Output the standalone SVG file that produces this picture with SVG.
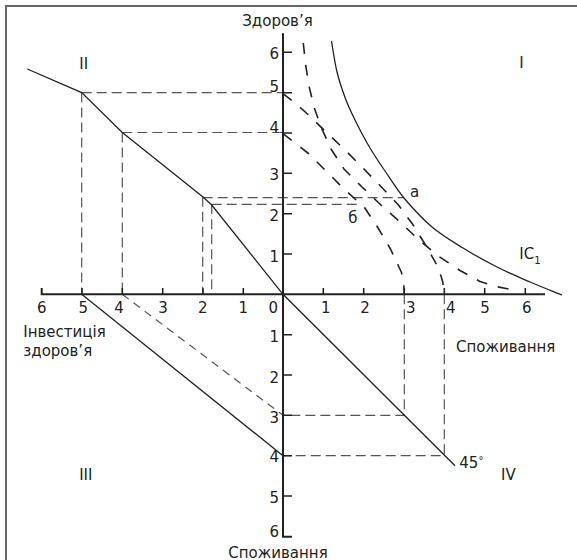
<svg xmlns="http://www.w3.org/2000/svg" width="577" height="560" viewBox="0 0 577 560">
<style>
text { font-family: "DejaVu Sans", "Liberation Sans", sans-serif; font-size: 15px; fill: #222; }
.c { text-anchor: middle; }
.e { text-anchor: end; }
.frame { fill: none; stroke: #666; stroke-width: 2; }
.axis { fill: none; stroke: #222; stroke-width: 2; }
.tick { fill: none; stroke: #222; stroke-width: 1.6; }
.solid { fill: none; stroke: #222; stroke-width: 1.3; }
.curve { fill: none; stroke: #222; stroke-width: 1.6; stroke-dasharray: 11 11; stroke-linejoin: round; }
.proj { fill: none; stroke: #555; stroke-width: 1.2; stroke-dasharray: 10 5; }
.proj2 { fill: none; stroke: #555; stroke-width: 1.2; stroke-dasharray: 8 6; }
</style>
<rect width="577" height="560" fill="#fff"/>
<path class="frame" d="M6,560 V6 H577"/>

<g id="projections">
  <path class="proj" d="M81.7,92.6 V294.3 M122.3,132.5 V294.3 M202.7,196.7 V294.3 M211.7,204.3 V294.3"/>
  <path class="proj" d="M81.7,92.6 H283 M122.3,132.5 H283 M202.7,197.7 H404 M211.7,204.3 H360"/>
  <path class="proj" d="M404.3,294.3 V415.3 H283 M444.3,294.3 V455.7 H283"/>
  <path class="proj2" d="M122.3,294.3 L283,415.3"/>
</g>

<g id="axes">
  <path class="axis" d="M41.7,288 V294.3 H545 M283,33.3 V536.7 H292"/>
  <path class="tick" d="M82,294.3 V288 M122.3,294.3 V288 M162.7,294.3 V288 M203,294.3 V288 M243.3,294.3 V288 M323.3,294.3 V288 M363.7,294.3 V288 M404.3,294.3 V288 M444.3,294.3 V288 M484.7,294.3 V288 M525.3,294.3 V288"/>
  <path class="tick" d="M283,52.3 H292 M283,92.7 H292 M283,133 H292 M283,173.3 H292 M283,213.7 H292 M283,254 H292 M283,334.7 H292 M283,375 H292 M283,415.3 H292 M283,455.7 H292 M283,496 H292"/>
</g>

<g id="solid-lines">
  <path class="solid" d="M27.3,69 L81.7,92.6 L122.3,132.5 L202.7,196.7 L211.7,205 L283,294.3 L455,465.7"/>
  <path class="solid" d="M81.7,294.3 L283,455.7"/>
  <path id="ic1" class="solid" d="M331.5,41 C332.4,46.2 334.6,62.2 337,72 C339.4,81.8 342.7,91.3 346,100 C349.3,108.7 353,116 357,124 C361,132 365.3,140.2 370,148 C374.7,155.8 379.3,162.7 385,171 C390.7,179.3 396.2,188.7 404,198 C411.8,207.3 422.2,218.7 432,227 C441.8,235.3 452.2,241.3 463,248 C473.8,254.7 485.8,261.3 497,267 C508.2,272.7 519.2,277.3 530,282 C540.8,286.7 556.7,292.8 562,295"/>
</g>

<g id="dashed-curves">
  <polyline class="curve" points="303.3,43 305.5,64 309,86 314,107 321,127 331,149 344,169 362,187 381,205 400,222 419,240 439,256.5 460,270.5 480,281.5 496,286.5 513,290"/>
  <polyline class="curve" points="283,93.6 295,103 307.5,114 325,131 344,149 362.5,167.5 380,185.5 398,204.5 412.5,224 426.5,246.5 438.5,268 442.8,282 444.3,294.3"/>
  <polyline class="curve" points="283,133.6 295,143 308.5,153.5 326,171 344,189 364.5,207.5 377.5,227 390.5,249 401.5,272.5 403.8,284 404.3,294.3"/>
</g>

<g id="axis-numbers">
  <text class="e" x="279" y="58.5">6</text>
  <text class="e" x="279" y="91.5">5</text>
  <text class="e" x="279" y="132.5">4</text>
  <text class="e" x="279" y="180">3</text>
  <text class="e" x="279" y="221">2</text>
  <text class="e" x="279" y="261.5">1</text>
  <text class="e" x="279" y="341.7">1</text>
  <text class="e" x="279" y="382.5">2</text>
  <text class="e" x="279" y="423">3</text>
  <text class="e" x="279" y="462">4</text>
  <text class="e" x="279" y="503">5</text>
  <text class="e" x="279" y="537">6</text>
  <text class="c" x="41.7" y="312.5">6</text>
  <text class="c" x="83.3" y="312.5">5</text>
  <text class="c" x="119" y="312.5">4</text>
  <text class="c" x="163" y="312.5">3</text>
  <text class="c" x="202.7" y="312.5">2</text>
  <text class="c" x="243.3" y="312.5">1</text>
  <text class="c" x="273.3" y="312.5">0</text>
  <text class="c" x="325.7" y="312.5">1</text>
  <text class="c" x="365" y="312.5">2</text>
  <text class="c" x="410.7" y="312.5">3</text>
  <text class="c" x="450.7" y="312.5">4</text>
  <text class="c" x="485" y="312.5">5</text>
  <text class="c" x="526.7" y="312.5">6</text>
</g>

<g id="labels">
  <text class="c" x="277.5" y="26">Здоров’я</text>
  <text x="23.3" y="336.7">Інвестиція</text>
  <text x="23.3" y="356">здоров’я</text>
  <text x="456" y="351.7">Споживання</text>
  <text x="228.3" y="557.5">Споживання</text>
  <text class="c" x="83.7" y="68.5">II</text>
  <text class="c" x="521.5" y="67.7">I</text>
  <text class="c" x="85.8" y="480">III</text>
  <text class="c" x="508.3" y="480">IV</text>
  <text x="459.3" y="468.3">45<tspan font-size="10" dy="-4">°</tspan></text>
  <text x="410" y="196.5">а</text>
  <text x="348.3" y="223.3">б</text>
  <text x="519.3" y="259.3">IC<tspan font-size="10" dy="5">1</tspan></text>
</g>
</svg>
